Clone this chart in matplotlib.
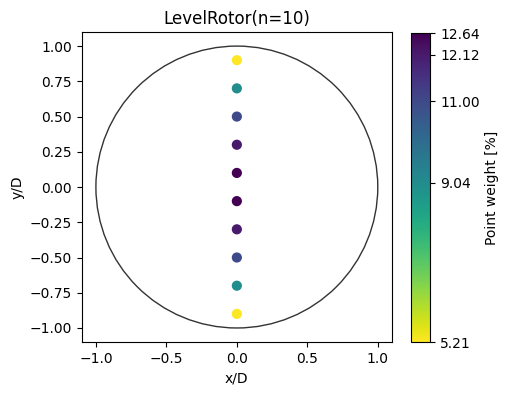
import numpy as np
import matplotlib
matplotlib.use("Agg")
import matplotlib.pyplot as plt
from matplotlib.patches import Circle

x_pos = [0, 0, 0, 0, 0, 0, 0, 0, 0, 0]
y_pos = [0.9, 0.7, 0.5, 0.3, 0.1, -0.1, -0.3, -0.5, -0.7, -0.9]
weights = [5.21, 9.04, 11.00, 12.12, 12.64, 12.64, 12.12, 11.00, 9.04, 5.21]
cbar_ticks = [5.21, 9.04, 11.00, 12.12, 12.64]

fig = plt.figure(figsize=(5.05, 3.95), dpi=100)
ax = fig.add_axes([0.162, 0.134, 0.614, 0.785])
cax = fig.add_axes([0.814, 0.134, 0.038, 0.782])

ax.add_patch(Circle((0, 0), 1.0, fill=False, edgecolor="#333333", linewidth=1.0))
sc = ax.scatter(x_pos, y_pos, c=weights, cmap="viridis_r", s=40,
                vmin=min(weights), vmax=max(weights), zorder=3)
ax.set_xlim(-1.1, 1.1)
ax.set_ylim(-1.1, 1.1)
ax.set_aspect("equal")
ax.set_xticks([-1.0, -0.5, 0.0, 0.5, 1.0])
ax.set_yticks([-1.0, -0.75, -0.5, -0.25, 0.0, 0.25, 0.5, 0.75, 1.0])
ax.set_xlabel("x/D")
ax.set_ylabel("y/D")
ax.set_title("LevelRotor(n=10)")

cb = fig.colorbar(sc, cax=cax)
cb.set_ticks(cbar_ticks)
cb.set_ticklabels([f"{t:.2f}" for t in cbar_ticks])
cb.set_label("Point weight [%]")

fig.savefig("out.png", dpi=100)
